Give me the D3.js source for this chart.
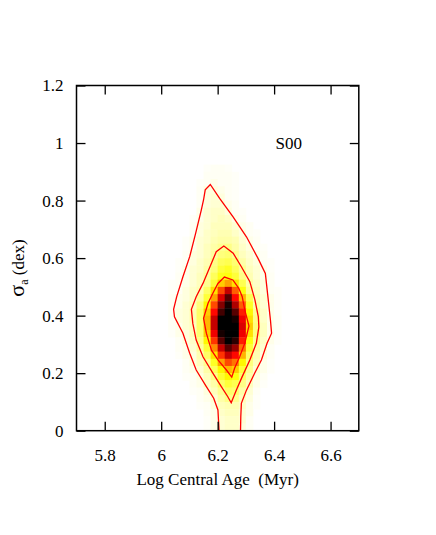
<!DOCTYPE html>
<html>
<head>
<meta charset="utf-8">
<script src="https://cdn.jsdelivr.net/npm/d3@7"></script>
<style>
  body { margin: 0; background: #fff; }
</style>
</head>
<body>
<div id="chart"></div>
<script>
// bin left edges (log age) and bottom edges (sigma), bin size 0.025
let ageBins = [6.025, 6.05, 6.075, 6.1, 6.125, 6.15, 6.175, 6.2, 6.225, 6.25, 6.275, 6.3, 6.325, 6.35, 6.375, 6.4];
let sigmaBins = [0.9, 0.875, 0.85, 0.825, 0.8, 0.775, 0.75, 0.725, 0.7, 0.675, 0.65, 0.625, 0.6, 0.575, 0.55, 0.525,
  0.5, 0.475, 0.45, 0.425, 0.4, 0.375, 0.35, 0.325, 0.3, 0.275, 0.25, 0.225, 0.2, 0.175, 0.15, 0.125, 0.1, 0.075, 0.05, 0.025, 0];

// relative density per cell (0 = empty, 35 = peak), one row per sigma bin
let density = [
  [0,0,0,0,0,.3,.5,.5,.3,0,0,0,0,0,0,0],
  [0,0,0,0,0,.5,.5,.5,.5,.3,0,0,0,0,0,0],
  [0,0,0,0,.3,.5,1,.5,.5,.3,0,0,0,0,0,0],
  [0,0,0,0,.5,1.5,1.5,1,.5,.3,0,0,0,0,0,0],
  [0,0,0,0,.5,1.5,2,1.5,.5,.3,0,0,0,0,0,0],
  [0,0,0,0,.5,1.5,2,2,1,.5,0,0,0,0,0,0],
  [0,0,0,0,1,2,2.5,2.5,1.5,.5,.3,0,0,0,0,0],
  [0,0,0,.3,1,2,2.5,3,2.5,1,.5,0,0,0,0,0],
  [0,0,0,.5,1.5,2,3,3,3,2,1,.5,0,0,0,0],
  [0,0,0,.5,1.5,2.5,3,3.5,3.5,2.5,1.5,.5,.3,0,0,0],
  [0,0,.3,1,2,2.5,3.5,4,4,3.5,2,1,.5,0,0,0],
  [0,0,.3,1,2,3,4,5,5.5,4,2.5,1.5,.5,.3,0,0],
  [0,0,.5,1.5,2,3,4.5,6,6.5,5,3,2,1,.5,0,0],
  [0,.3,.5,1.5,2.5,3.5,5.5,7.5,8,6.5,4,2.5,1.5,.5,.3,0],
  [0,.3,1,2,2.5,4,6,9,10,7.5,5,3,2,1,.3,0],
  [0,.5,1,2,3,4.5,7.5,10.5,11,9,5.5,3.5,2,1,.5,0],
  [.3,.5,1,2,3,5,9,14,16,13,8,4,2.5,1.5,.5,0],
  [.3,.5,1.5,2.5,3.5,7,13,20,26,19,11,5,3,1.5,.5,.3],
  [.5,1,1.5,2.5,4.5,9,16,25,31,23,15,8,3.5,2,1,.3],
  [.5,1,2,3,6,12,20,29,34,27,19,10,4,2,1,.3],
  [.5,1.5,2,3.5,7,14,23,32,35,31,22,12,5,2.5,1,.3],
  [.5,1.5,2,3.5,7,15,26,35,35,34,24,13,5.5,2.5,1,.5],
  [.5,1,2,3,7,15,26,35,35,35,25,14,6,3,1,.5],
  [.3,1,1.5,3,6.5,14,24,34,35,35,24,13,6,3,1,.3],
  [0,.5,1.5,2.5,5.5,12,21,31,35,33,22,11,5,2.5,1,.3],
  [0,.5,1,2,4.5,9,17,26,31,28,18,9,4,2,.5,0],
  [0,.3,1,1.5,3.5,7,13,21,26,23,15,7,3.5,1.5,.5,0],
  [0,0,.5,1.5,3,5,10,16,20,18,12,6,3,1,.3,0],
  [0,0,.5,1,2,4,7.5,12,15,14,9,5,2,1,.3,0],
  [0,0,.3,.5,1.5,3,5.5,9.5,12,11,7,4,1.5,.5,0,0],
  [0,0,0,.5,1,2.5,4,7,9,8,5.5,3,1,.3,0,0],
  [0,0,0,.3,.5,1.5,3,5,7,6.5,4,2,.5,0,0,0],
  [0,0,0,0,.5,1,2,4,5.5,5,3,1.5,.3,0,0,0],
  [0,0,0,0,.3,.5,1.5,3,3.5,3.5,2.5,1,.3,0,0,0],
  [0,0,0,0,0,.5,1,2.5,3,3,2,1,0,0,0,0],
  [0,0,0,0,0,.3,1,2,2.5,2.5,2,.5,0,0,0,0],
  [0,0,0,0,0,.3,1,2,2.5,2.5,1.5,.5,0,0,0,0]
];

// confidence contours, [log age, sigma]
let contourOuter = [[6.205,0],[6.201,0.072],[6.186,0.113],[6.160,0.153],[6.124,0.211],[6.101,0.269],[6.077,0.339],
  [6.047,0.396],[6.044,0.422],[6.055,0.466],[6.077,0.535],[6.101,0.605],[6.122,0.686],[6.142,0.767],[6.150,0.802],
  [6.156,0.837],[6.174,0.856],[6.207,0.808],[6.254,0.744],[6.302,0.674],[6.343,0.599],[6.369,0.547],[6.378,0.466],
  [6.387,0.385],[6.391,0.339],[6.375,0.304],[6.355,0.246],[6.331,0.200],[6.302,0.141],[6.284,0.095],[6.282,0.049],[6.281,0]];
let contourMiddle = [[6.222,0.642],[6.195,0.622],[6.178,0.582],[6.148,0.512],[6.124,0.466],[6.107,0.422],[6.112,0.373],
  [6.124,0.315],[6.148,0.257],[6.183,0.200],[6.213,0.153],[6.236,0.118],[6.248,0.097],[6.266,0.141],[6.287,0.188],
  [6.314,0.246],[6.337,0.304],[6.346,0.361],[6.344,0.397],[6.332,0.455],[6.314,0.518],[6.284,0.570],[6.255,0.617]];
let contourInner = [[6.224,0.534],[6.201,0.512],[6.183,0.478],[6.166,0.443],[6.150,0.391],[6.160,0.339],[6.178,0.280],
  [6.201,0.246],[6.231,0.211],[6.250,0.186],[6.260,0.217],[6.278,0.257],[6.296,0.304],[6.311,0.364],[6.296,0.420],
  [6.287,0.466],[6.275,0.495],[6.254,0.524]];

let xTicks = [5.8, 6, 6.2, 6.4, 6.6];
let yTicks = [0, 0.2, 0.4, 0.6, 0.8, 1, 1.2];
let binSize = 0.025;

let serif = "'Liberation Serif', 'Times New Roman', Times, serif";
let width = 436, height = 535;
let margin = {top: 85.5, right: 77.2, bottom: 104.3, left: 76.5};

let svg = d3.select("#chart").append("svg")
  .attr("width", width)
  .attr("height", height)
  .style("font-family", serif);

let x = d3.scaleLinear().domain([5.7, 6.7]).range([margin.left, width - margin.right]);
let y = d3.scaleLinear().domain([0, 1.2]).range([height - margin.bottom, margin.top]);

// reversed "hot" palette: white -> yellow -> red -> black
let color = d3.scaleLinear()
  .domain([0, 35 / 3, 70 / 3, 35])
  .range(["#ffffff", "#ffff00", "#ff0000", "#000000"])
  .clamp(true);

svg.append("clipPath").attr("id", "plot-clip")
  .append("rect")
  .attr("x", x(5.7)).attr("y", y(1.2))
  .attr("width", x(6.7) - x(5.7)).attr("height", y(0) - y(1.2));

let plot = svg.append("g").attr("clip-path", "url(#plot-clip)");

let cells = [];
density.forEach((row, i) => {
  row.forEach((v, j) => {
    if (v > 0) cells.push({age: ageBins[j], sigma: sigmaBins[i], v: v});
  });
});

plot.selectAll("rect.cell")
  .data(cells)
  .enter()
  .append("rect")
  .attr("class", "cell")
  .attr("x", d => x(d.age))
  .attr("y", d => y(d.sigma + binSize))
  .attr("width", d => x(d.age + binSize) - x(d.age) + 0.4)
  .attr("height", d => y(d.sigma) - y(d.sigma + binSize) + 0.4)
  .attr("fill", d => color(d.v));

let line = d3.line().x(d => x(d[0])).y(d => y(d[1]));

plot.append("path")
  .attr("d", line(contourOuter))
  .attr("fill", "none").attr("stroke", "#ff0000").attr("stroke-width", 1.3);

[contourMiddle, contourInner].forEach(c => {
  plot.append("path")
    .attr("d", line(c) + "Z")
    .attr("fill", "none").attr("stroke", "#ff0000").attr("stroke-width", 1.3);
});

// axes: ticks on all four sides, pointing inward
let tickLen = 9;
let fmt = d3.format("~g");

svg.append("g")
  .attr("transform", `translate(0,${y(0)})`)
  .call(d3.axisBottom(x).tickValues(xTicks).tickSize(-tickLen).tickPadding(18).tickFormat(fmt));
svg.append("g")
  .attr("transform", `translate(0,${y(1.2)})`)
  .call(d3.axisTop(x).tickValues(xTicks).tickSize(-tickLen).tickFormat(""));
svg.append("g")
  .attr("transform", `translate(${x(5.7)},0)`)
  .call(d3.axisLeft(y).tickValues(yTicks).tickSize(-tickLen).tickPadding(13).tickFormat(fmt));
svg.append("g")
  .attr("transform", `translate(${x(6.7)},0)`)
  .call(d3.axisRight(y).tickValues(yTicks).tickSize(-tickLen).tickFormat(""));

svg.selectAll(".domain").remove();
svg.selectAll(".tick line").attr("stroke", "#000").attr("stroke-width", 1.3);
svg.selectAll(".tick text")
  .attr("fill", "#000")
  .style("font-family", serif)
  .style("font-size", "17px");

svg.append("rect")
  .attr("x", x(5.7)).attr("y", y(1.2))
  .attr("width", x(6.7) - x(5.7)).attr("height", y(0) - y(1.2))
  .attr("fill", "none").attr("stroke", "#000").attr("stroke-width", 1.5);

svg.append("text")
  .attr("x", (x(5.7) + x(6.7)) / 2)
  .attr("y", 485)
  .attr("text-anchor", "middle")
  .style("font-family", serif)
  .style("font-size", "17px")
  .style("white-space", "pre")
  .text("Log Central Age  (Myr)");

let yLabel = svg.append("text")
  .attr("transform", "translate(24,268) rotate(-90)")
  .attr("text-anchor", "middle")
  .style("font-family", serif)
  .style("font-size", "17px");
yLabel.append("tspan").style("font-size", "22px").text("σ");
yLabel.append("tspan").attr("dy", 4).style("font-size", "12px").text("a");
yLabel.append("tspan").attr("dy", -4).style("white-space", "pre").text(" (dex)");

svg.append("text")
  .attr("x", x(6.405))
  .attr("y", y(0.98))
  .style("font-family", serif)
  .style("font-size", "17px")
  .text("S00");
</script>
</body>
</html>
